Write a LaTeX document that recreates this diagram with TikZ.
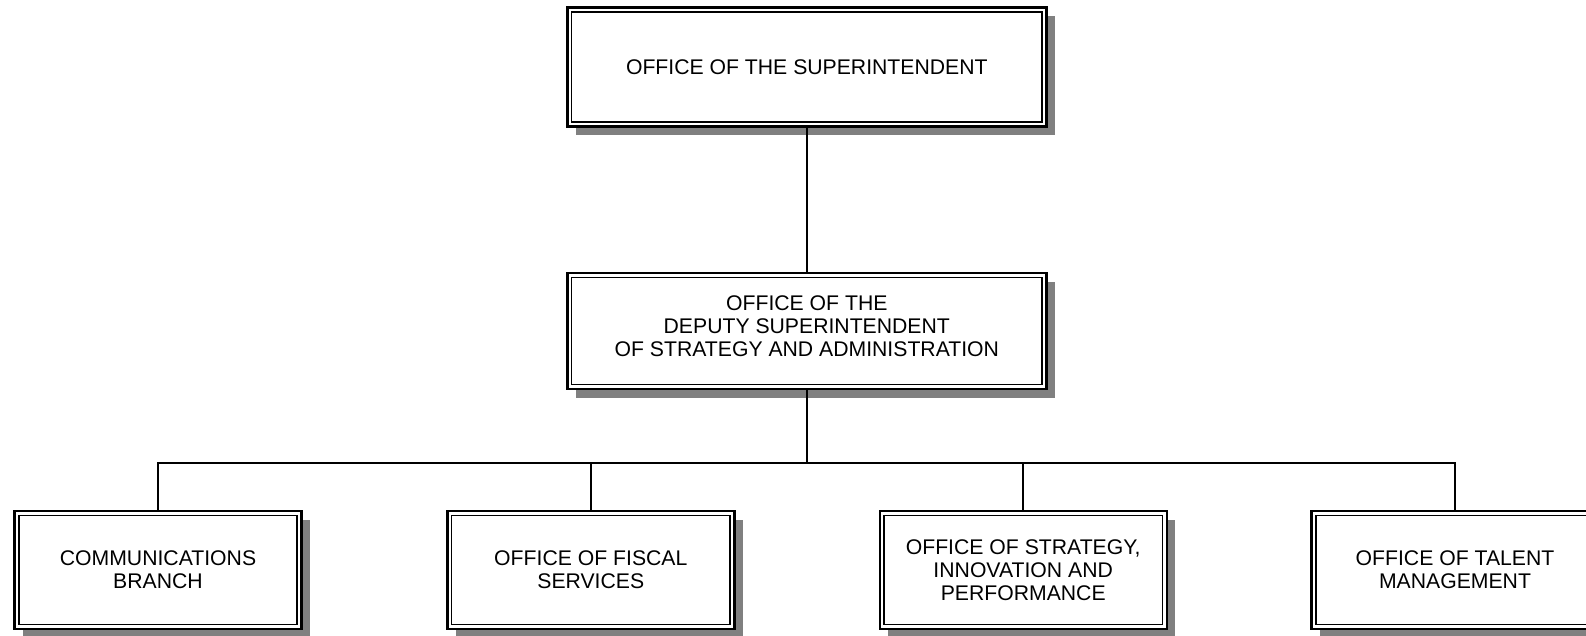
\documentclass[tikz,border=0pt]{standalone}
\usepackage{fontspec}
\setmainfont{Liberation Sans}
\usetikzlibrary{positioning,shadows}
\definecolor{shade}{RGB}{128,128,128}
\tikzset{
  unit/.style={rectangle,draw=black,line width=1.2pt,fill=white,inner sep=0pt,
    align=center,font=\fontsize{10.6pt}{11.6pt}\selectfont,
    drop shadow={shadow xshift=4.2pt,shadow yshift=-4.4pt,fill=shade,opacity=1},
    path picture={\draw[line width=0.7pt]
      ([shift={(2.2pt,2.2pt)}]path picture bounding box.south west) rectangle
      ([shift={(-2.2pt,-2.2pt)}]path picture bounding box.north east);}},
  bigunit/.style={unit,minimum width=239.5pt,minimum height=59.5pt},
  smallunit/.style={unit,minimum width=143.5pt,minimum height=59pt},
  link/.style={line width=0.9pt},
}

\begin{document}
\begin{tikzpicture}[x=0.5pt,y=-0.5pt]
\useasboundingbox (0,0) rectangle (1586,636);
% top levels
\node[bigunit] (super) at (806.8,67) {OFFICE OF THE SUPERINTENDENT};
\node[bigunit, minimum height=58pt, text depth=5pt] (deputy) at (806.8,331)
  {OFFICE OF THE\\DEPUTY SUPERINTENDENT\\OF STRATEGY AND ADMINISTRATION};
% offices
\node[smallunit] (comm) at (158,570) {COMMUNICATIONS\\BRANCH};
\node[smallunit] (fiscal) at (590.8,570) {OFFICE OF FISCAL\\SERVICES};
\node[smallunit] (strategy) at (1023.2,570) {OFFICE OF STRATEGY,\\INNOVATION AND\\PERFORMANCE};
\node[smallunit] (talent) at (1455,570) {OFFICE OF TALENT\\MANAGEMENT};
\coordinate (bus) at (806.8,463);
% links
\draw[link] (super) -- (deputy);
\draw[link] (deputy) -- (bus);
\draw[link] (bus) -| (comm);
\draw[link] (bus) -| (fiscal);
\draw[link] (bus) -| (strategy);
\draw[link] (bus) -| (talent);
\end{tikzpicture}
\end{document}
